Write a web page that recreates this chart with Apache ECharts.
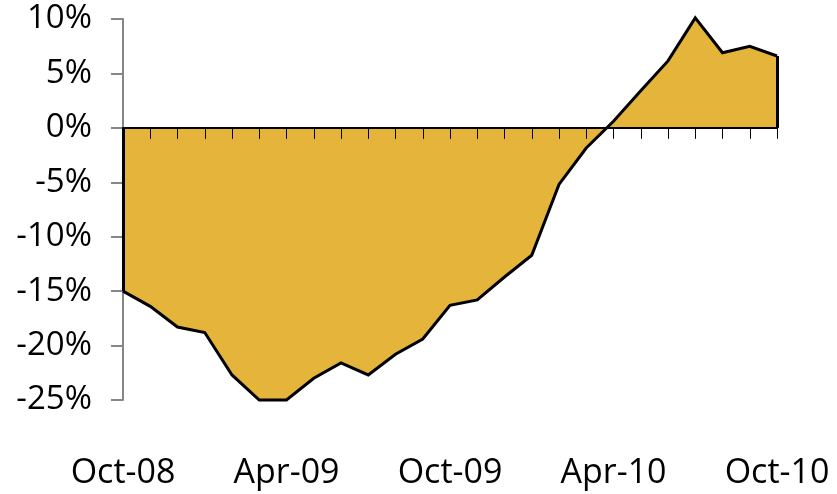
<!DOCTYPE html>
<html>
<head>
<meta charset="utf-8">
<script src="https://cdn.jsdelivr.net/npm/echarts@6/dist/echarts.min.js"></script>
<style>
  html, body { margin: 0; padding: 0; background: #fff; }
  #chart-container { width: 837px; height: 494px; }
</style>
</head>
<body>
<div id="chart-container"></div>
<script>
// months from Oct-08 to Oct-10
const months = [
  'Oct-08', 'Nov-08', 'Dec-08', 'Jan-09', 'Feb-09', 'Mar-09', 'Apr-09',
  'May-09', 'Jun-09', 'Jul-09', 'Aug-09', 'Sep-09', 'Oct-09',
  'Nov-09', 'Dec-09', 'Jan-10', 'Feb-10', 'Mar-10', 'Apr-10',
  'May-10', 'Jun-10', 'Jul-10', 'Aug-10', 'Sep-10', 'Oct-10'
];

// year-on-year change, %
const change = [
  -15.0, -16.4, -18.3, -18.8, -22.7, -25.0, -25.0,
  -23.0, -21.6, -22.7, -20.8, -19.4, -16.3,
  -15.8, -13.7, -11.7, -5.2, -1.85, 0.6,
  3.4, 6.15, 10.1, 6.9, 7.5, 6.6
];

const yMin = -25;
const yMax = 10;
const yStep = 5;

const fontFamily = 'Open Sans';
const last = months.length - 1;

let chart = echarts.init(document.getElementById('chart-container'));

let options = {
  animation: false,
  grid: {
    left: 123,
    right: 60,
    top: 19,
    bottom: 94
  },
  xAxis: [
    {
      // zero line with the monthly ticks
      type: 'category',
      data: months,
      boundaryGap: false,
      axisLine: { onZero: true, lineStyle: { color: '#000', width: 2 } },
      axisTick: { show: true, length: 11, interval: 0, lineStyle: { color: '#000', width: 1 } },
      axisLabel: { show: false },
      splitLine: { show: false },
      z: 5
    },
    {
      // labels along the bottom
      type: 'category',
      data: months,
      boundaryGap: false,
      position: 'bottom',
      axisLine: { show: false, onZero: false },
      axisTick: { show: false },
      axisLabel: {
        interval: 5,
        margin: 56,
        color: '#000',
        fontSize: 34,
        fontFamily: fontFamily
      },
      splitLine: { show: false }
    }
  ],
  yAxis: {
    type: 'value',
    min: yMin,
    max: yMax,
    interval: yStep,
    axisLine: { show: true, onZero: false, lineStyle: { color: '#868686', width: 2 } },
    axisTick: { show: true, length: 12, lineStyle: { color: '#868686', width: 2 } },
    axisLabel: {
      margin: 31,
      color: '#000',
      fontSize: 33,
      fontFamily: fontFamily,
      formatter: v => v + '%'
    },
    splitLine: { show: false }
  },
  series: [
    {
      name: 'Change',
      type: 'line',
      xAxisIndex: 0,
      data: change,
      clip: false,
      showSymbol: false,
      lineStyle: { color: '#000', width: 3, join: 'miter' },
      areaStyle: { color: '#E4B53A', opacity: 1 },
      z: 2,
      markLine: {
        silent: true,
        symbol: 'none',
        label: { show: false },
        lineStyle: { color: '#000', width: 3, type: 'solid' },
        data: [
          [{ coord: [months[0], 0] }, { coord: [months[0], change[0]] }],
          [{ coord: [months[last], 0] }, { coord: [months[last], change[last]] }]
        ]
      }
    }
  ]
};

chart.setOption(options);
</script>
</body>
</html>
